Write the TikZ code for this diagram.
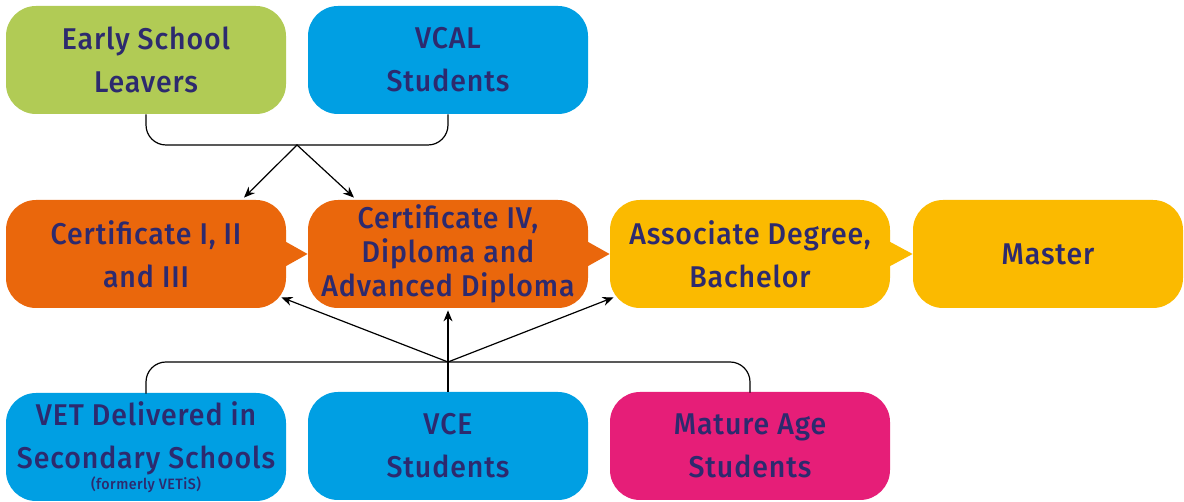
\documentclass[tikz,border=0pt]{standalone}
\usepackage{fontspec}
\setmainfont{Fira Sans}[FakeStretch=0.95,LetterSpace=3,BoldFont={Fira Sans Medium}]
\usetikzlibrary{positioning,calc,arrows.meta}
\definecolor{colorESL}{HTML}{B1CB55}
\definecolor{colorVC}{HTML}{009FE3}
\definecolor{colorCERT}{HTML}{EA670C}
\definecolor{colorUNI}{HTML}{FBBA00}
\definecolor{colorMAT}{HTML}{E61E78}
\definecolor{colorTXT}{HTML}{2D2A6E}
\tikzset{
   every path/.style={>={Stealth[length=5.5pt,width=4.5pt]}},
   box/.style={rectangle,rounded corners=15pt,minimum width=140pt,minimum height=54pt,
      inner sep=0pt,align=center,text=colorTXT,font=\fontsize{15}{21.5}\selectfont\bfseries},
   esl/.style={box,fill=colorESL},
   vc/.style={box,fill=colorVC},
   cert/.style={box,fill=colorCERT},
   uni/.style={box,fill=colorUNI},
   mat/.style={box,fill=colorMAT},
   brace/.style={-,line width=0.6pt,rounded corners=10pt},
   feed/.style={->,line width=0.6pt,shorten <=-0.2pt},
}

\begin{document}
\begin{tikzpicture}[x=0.5pt,y=0.5pt]
   \useasboundingbox (0,0) rectangle (1184,502);

   \node[esl]  (esl)  at (146,442) {Early School\\Leavers};
   \node[vc]   (vcal) at (448,442) {VCAL\\Students};

   \node[cert] (cI)   at (146,248) {Certificate I, II\\and III};
   \node[cert,font=\fontsize{15}{17}\selectfont\bfseries] (cIV) at (448,248)
      {Certificate IV,\\Diploma and\\Advanced Diploma};
   \node[uni]  (asd)  at (750,248) {Associate Degree,\\Bachelor};
   \node[uni,minimum width=135pt] (mst) at (1048,248) {Master};

   \node[vc]   (vet)  at (146,55) {VET Delivered in\\Secondary Schools\\[-11pt]
      {\fontsize{7.5}{8}\selectfont (formerly VETiS)}};
   \node[vc]   (vce)  at (448,56) {VCE\\Students};
   \node[mat]  (mat)  at (750,56) {Mature Age\\Students};

   \fill[colorCERT] ($(cI.east)+(-2,13)$) -- (cIV.west) -- ($(cI.east)+(-2,-13)$) -- cycle;
   \fill[colorCERT] ($(cIV.east)+(-2,13)$) -- (asd.west) -- ($(cIV.east)+(-2,-13)$) -- cycle;
   \fill[colorUNI] ($(asd.east)+(-2,13)$) -- (mst.west) -- ($(asd.east)+(-2,-13)$) -- cycle;

   \coordinate (topjoin) at (297,357);
   \coordinate (botjoin) at (448,140);

   \draw[brace] (esl.south) |- (topjoin) -| (vcal.south);
   \draw[feed] (topjoin) -- ($(cI.north)+(98,2)$);
   \draw[feed] (topjoin) -- ($(cIV.north)+(-94,2)$);

   \draw[brace] ($(vet.north)+(0,-1)$) |- (botjoin) -| ($(mat.north)+(0,-1)$);
   \draw[brace] (vce.north) -- (botjoin);
   \draw[feed] (botjoin) -- ($(cI.south east)+(-5,11)$);
   \draw[feed] (botjoin) -- ($(cIV.south)+(0,-2)$);
   \draw[feed] (botjoin) -- ($(asd.south west)+(4,11)$);
\end{tikzpicture}
\end{document}
